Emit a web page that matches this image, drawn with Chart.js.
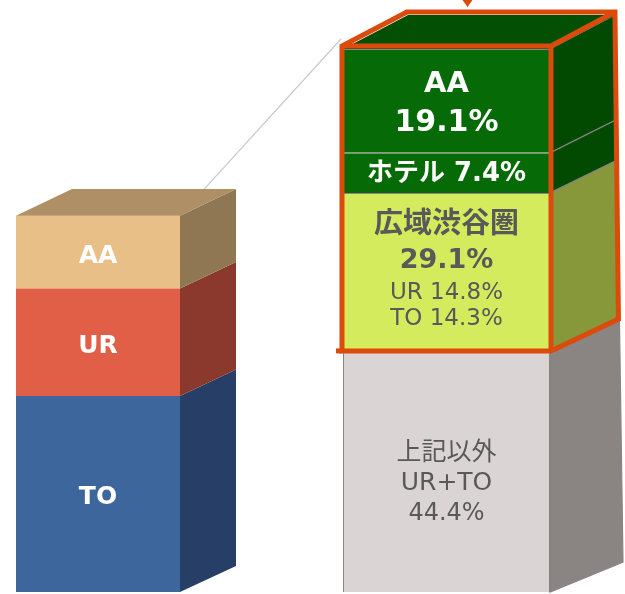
<!DOCTYPE html>
<html>
<head>
<meta charset="utf-8">
<script src="https://cdn.jsdelivr.net/npm/chart.js@4.4.1/dist/chart.umd.min.js"></script>
<style>
  html, body { margin: 0; padding: 0; background: #ffffff; }
  #wrap { width: 625px; height: 594px; position: relative; }
</style>
</head>
<body>
<div id="wrap"><canvas id="chart"></canvas></div>
<script>
// ---- data ----
const categories = ['left', 'right'];
const leftSegments = ['TO', 'UR', 'AA'];
const leftValues = [36.1, 19.8, 13.4];
const rightSegments = ['上記以外', '広域渋谷圏', 'ホテル', 'AA'];
const rightValues = [44.4, 29.1, 7.4, 19.1];
const shibuyaParts = ['UR', 'TO'];
const shibuyaPartValues = [14.8, 14.3];
const otherPartsNote = 'UR+TO';

// ---- styles ----
const FONT = "'DejaVu Sans', 'Noto Sans CJK JP', sans-serif";
const GREY_TEXT = '#595959';
const leftStyle = [
  { front: '#3D669C', side: '#273F66', top: '#34588A' },
  { front: '#E15F46', side: '#8C392D', top: '#B44D39' },
  { front: '#E9BF88', side: '#907754', top: '#AE8F66' }
];
const rightStyle = [
  { front: '#DAD5D4', side: '#8A8483', top: '#B0ABAA' },
  { front: '#D4EB5E', side: '#86983A', top: '#AABD4A' },
  { front: '#066A07', side: '#024A02', top: '#035203' },
  { front: '#066A07', side: '#024A02', top: '#034F03' }
];
// extrusion of the boxes: offset of the back face at the top and at the bottom of the bar
const depth = {
  left:  { top: { dx: 56, dy: -27 }, bottom: { dx: 56, dy: -26 } },
  right: { top: { dx: 65, dy: -34 }, bottom: { dx: 73, dy: -30 } }
};

const pct = v => v.toFixed(1) + '%';

// text lines drawn on each front face (dy is relative to the segment centre)
function leftLabel(i) {
  return [{ text: leftSegments[i], font: 'bold 25px ' + FONT, color: '#FFFFFF', dy: 4 }];
}
function rightLabel(i) {
  const v = rightValues[i];
  if (i === 0) {
    return [
      { text: rightSegments[0], font: '25px ' + FONT, color: GREY_TEXT, dy: -18 },
      { text: otherPartsNote, font: '25px ' + FONT, color: GREY_TEXT, dy: 12 },
      { text: pct(v), font: '24px ' + FONT, color: GREY_TEXT, dy: 42 }
    ];
  }
  if (i === 1) {
    return [
      { text: rightSegments[1], font: 'bold 29px ' + FONT, color: GREY_TEXT, dy: -46 },
      { text: pct(v), font: 'bold 27px ' + FONT, color: GREY_TEXT, dy: -11 },
      { text: shibuyaParts[0] + ' ' + pct(shibuyaPartValues[0]), font: '23px ' + FONT, color: GREY_TEXT, dy: 21 },
      { text: shibuyaParts[1] + ' ' + pct(shibuyaPartValues[1]), font: '23px ' + FONT, color: GREY_TEXT, dy: 47 }
    ];
  }
  if (i === 2) {
    return [{ text: rightSegments[2] + ' ' + pct(v), font: 'bold 26px ' + FONT, color: '#FFFFFF', dy: 1 }];
  }
  return [
    { text: rightSegments[3], font: 'bold 29px ' + FONT, color: '#FFFFFF', dy: -16 },
    { text: pct(v), font: 'bold 30px ' + FONT, color: '#FFFFFF', dy: 22 }
  ];
}

const datasets = [];
leftValues.forEach((v, i) => {
  datasets.push({
    label: leftSegments[i], data: [v, null],
    backgroundColor: leftStyle[i].front, borderWidth: 0,
    barPercentage: 0.4706, categoryPercentage: 1, clip: false,
    group: 'left', style: leftStyle[i], lines: leftLabel(i),
    isTop: i === leftValues.length - 1
  });
});
rightValues.forEach((v, i) => {
  datasets.push({
    label: rightSegments[i], data: [null, v],
    backgroundColor: rightStyle[i].front, borderColor: '#8C8484', borderWidth: 1,
    barPercentage: 0.594, categoryPercentage: 1, clip: false,
    group: 'right', style: rightStyle[i], lines: rightLabel(i),
    isTop: i === rightValues.length - 1, highlighted: i >= 1
  });
});

function barOf(chart, di) {
  const meta = chart.getDatasetMeta(di);
  const idx = chart.data.datasets[di].group === 'left' ? 0 : 1;
  return meta.data[idx];
}

// back-face offset at a given pixel height, interpolated between bar bottom and top
function offsetAt(chart, group, y) {
  const d = depth[group];
  const area = chart.chartArea;
  const t = (area.bottom - y) / (area.bottom - area.top);
  return {
    dx: d.bottom.dx + (d.top.dx - d.bottom.dx) * t,
    dy: d.bottom.dy + (d.top.dy - d.bottom.dy) * t
  };
}

const cubePlugin = {
  id: 'cube3d',
  beforeDatasetsDraw(chart) {
    const ctx = chart.ctx;
    ctx.save();
    // thin guide from the small bar to the expanded bar
    const lTop = barOf(chart, leftValues.length - 1);
    const rTop = barOf(chart, datasets.length - 1);
    ctx.strokeStyle = '#C9C9C9';
    ctx.lineWidth = 1.2;
    ctx.beginPath();
    ctx.moveTo(lTop.x + lTop.width / 2, lTop.y);
    ctx.lineTo(rTop.x - rTop.width / 2 - 2, rTop.y - 10);
    ctx.stroke();
    ctx.restore();
  },
  afterDatasetsDraw(chart) {
    const ctx = chart.ctx;
    ctx.save();
    chart.data.datasets.forEach((ds, di) => {
      const el = barOf(chart, di);
      if (!el) return;
      const r = el.x + el.width / 2, l = el.x - el.width / 2;
      const oTop = offsetAt(chart, ds.group, el.y);
      const oBot = offsetAt(chart, ds.group, el.base);
      // side face
      ctx.fillStyle = ds.style.side;
      ctx.beginPath();
      ctx.moveTo(r, el.y);
      ctx.lineTo(r + oTop.dx, el.y + oTop.dy);
      ctx.lineTo(r + oBot.dx, el.base + oBot.dy);
      ctx.lineTo(r, el.base);
      ctx.closePath();
      ctx.fill();
      if (ds.group === 'right') {
        ctx.strokeStyle = '#8C8484';
        ctx.lineWidth = 1.2;
        ctx.stroke();
      }
      // top face
      if (ds.isTop) {
        ctx.fillStyle = ds.style.top;
        ctx.beginPath();
        ctx.moveTo(l, el.y);
        ctx.lineTo(l + oTop.dx, el.y + oTop.dy);
        ctx.lineTo(r + oTop.dx, el.y + oTop.dy);
        ctx.lineTo(r, el.y);
        ctx.closePath();
        ctx.fill();
      }
    });

    // orange outline round the upper three segments of the right bar
    const hl = chart.data.datasets.map((ds, di) => ds.highlighted ? barOf(chart, di) : null).filter(Boolean);
    const topY = Math.min(...hl.map(e => e.y)) - 3;
    const botY = Math.max(...hl.map(e => e.base));
    const e0 = hl[0];
    const l = e0.x - e0.width / 2 - 1, r = e0.x + e0.width / 2 + 1;
    const oT = offsetAt(chart, 'right', topY);
    const oB = offsetAt(chart, 'right', botY);
    ctx.strokeStyle = '#DC4A0C';
    ctx.fillStyle = '#DC4A0C';
    ctx.lineWidth = 5;
    ctx.lineJoin = 'miter';
    ctx.beginPath();
    // outer silhouette
    ctx.moveTo(l, botY);
    ctx.lineTo(r, botY);
    ctx.lineTo(r + oB.dx - 2, botY + oB.dy);
    ctx.lineTo(r + oT.dx - 1, topY + oT.dy);
    ctx.lineTo(l + oT.dx, topY + oT.dy);
    ctx.lineTo(l, topY);
    ctx.closePath();
    // front edges
    ctx.moveTo(l, topY);
    ctx.lineTo(r, topY);
    ctx.lineTo(r + oT.dx - 1, topY + oT.dy);
    ctx.moveTo(r, topY);
    ctx.lineTo(r, botY);
    ctx.stroke();
    ctx.beginPath();
    ctx.moveTo(l - 6, botY);
    ctx.lineTo(l, botY);
    ctx.stroke();
    // pointer above the outlined block
    const ax = e0.x + 21;
    ctx.beginPath();
    ctx.moveTo(ax - 5, 0);
    ctx.lineTo(ax + 5, 0);
    ctx.lineTo(ax, 7);
    ctx.closePath();
    ctx.fill();

    // labels on the front faces
    ctx.textAlign = 'center';
    ctx.textBaseline = 'middle';
    chart.data.datasets.forEach((ds, di) => {
      const el = barOf(chart, di);
      if (!el) return;
      const cy = (el.y + el.base) / 2;
      ds.lines.forEach(line => {
        ctx.font = line.font;
        ctx.fillStyle = line.color;
        ctx.fillText(line.text, el.x, cy + line.dy);
      });
    });
    ctx.restore();
  }
};

new Chart(document.getElementById('chart'), {
  type: 'bar',
  data: { labels: categories, datasets },
  options: {
    responsive: true,
    maintainAspectRatio: false,
    animation: false,
    layout: { padding: { left: 98, right: 178.5, top: 49, bottom: 2 } },
    plugins: { legend: { display: false }, tooltip: { enabled: false } },
    scales: {
      x: { stacked: true, offset: false, display: false },
      y: { stacked: true, min: 0, max: 100, display: false }
    }
  },
  plugins: [cubePlugin]
});
</script>
</body>
</html>
